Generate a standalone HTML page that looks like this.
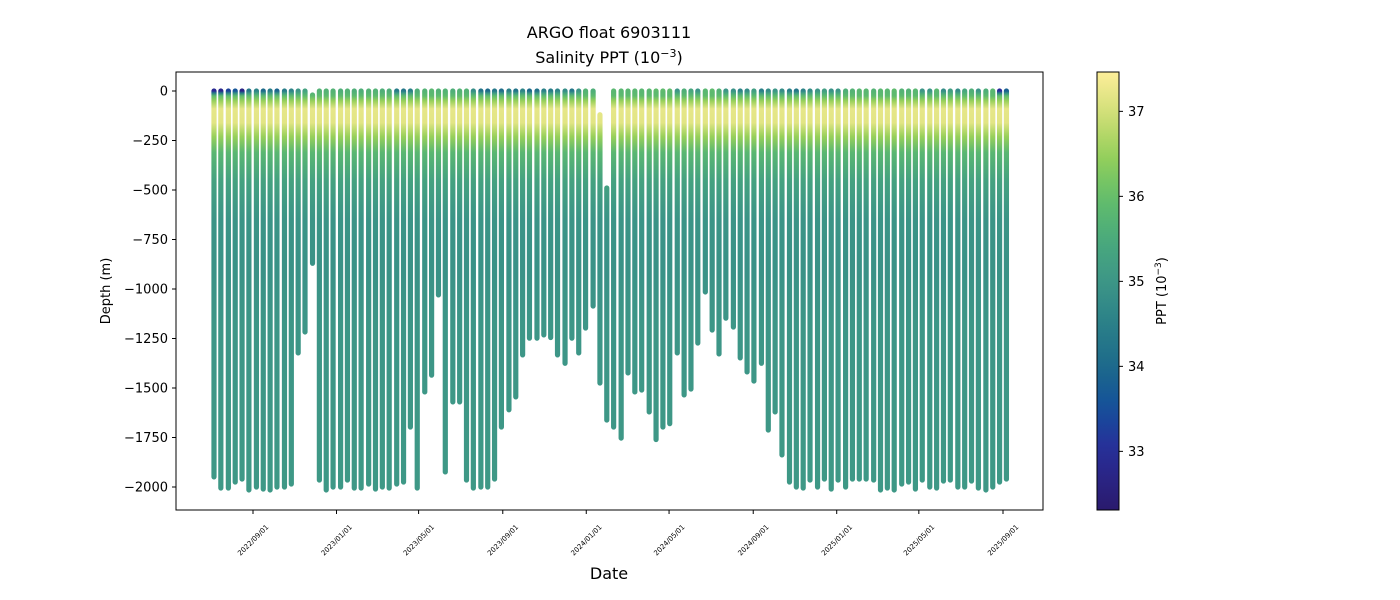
<!DOCTYPE html>
<html><head><meta charset="utf-8"><style>
body{margin:0;background:#fff;}
svg{display:block;font-family:"DejaVu Sans","Liberation Sans",sans-serif;}
</style></head><body>
<svg id="chart" width="1400" height="600" viewBox="0 0 1400 600">
<defs id="defs"><linearGradient id="cbar" x1="0" y1="1" x2="0" y2="0"></linearGradient></defs>
<text x="609" y="38" text-anchor="middle" font-size="16">ARGO float 6903111</text>
<text x="609" y="63" text-anchor="middle" font-size="16">Salinity PPT (10<tspan dy="-6" font-size="11">−3</tspan><tspan dy="6">)</tspan></text>
<g id="profiles"></g>
<rect x="176" y="72" width="867" height="438" fill="none" stroke="#000" stroke-width="1"/>
<g id="yaxis"></g>
<g id="xaxis"></g>
<text x="0" y="0" transform="translate(110,291) rotate(-90)" text-anchor="middle" font-size="13">Depth (m)</text>
<text x="609" y="579" text-anchor="middle" font-size="16">Date</text>
<rect x="1097" y="72" width="22" height="438" fill="url(#cbar)" stroke="#000" stroke-width="1"/>
<g id="cbaxis"></g>
<text x="0" y="0" transform="translate(1166,291) rotate(-90)" text-anchor="middle" font-size="13">PPT (10<tspan dy="-5" font-size="9">−3</tspan><tspan dy="5">)</tspan></text>
</svg>
<script>
const NS="http://www.w3.org/2000/svg";
// day offsets from 2022-09-01 for each profile
const profileDays=[-57,-47,-36,-26,-16,-6,5,15,25,35,46,56,66,76,87,97,107,117,128,138,148,158,169,179,189,199,210,220,230,240,251,261,271,281,292,302,312,322,333,343,353,363,374,384,394,404,415,425,435,445,456,466,476,486,497,507,517,527,538,548,558,568,579,589,599,609,620,630,640,650,661,671,681,691,702,712,722,732,743,753,763,773,784,794,804,814,825,835,845,855,866,876,886,896,907,917,927,937,948,958,968,978,989,999,1009,1019,1030,1040,1050,1060,1071,1081,1091,1101];
const maxDepth=[1949,2005,2005,1975,1960,2015,2000,2010,2015,2000,2000,1985,1323,1217,870,1965,2015,2000,2000,1965,2005,2005,1985,2010,2000,2005,1985,1975,1697,2005,1520,1435,1030,1924,1570,1570,1965,2005,2000,2000,1960,1697,1610,1545,1333,1248,1248,1232,1245,1333,1375,1248,1323,1197,1086,1475,1662,1697,1753,1424,1520,1510,1621,1760,1697,1680,1323,1535,1505,1273,1015,1207,1328,1147,1192,1348,1419,1465,1375,1712,1621,1838,1975,2000,2005,1965,2000,1960,2010,1965,2000,1960,1960,1960,1965,2015,2005,2015,1985,1975,2010,1965,2000,2005,1970,1965,2000,2000,1970,2005,2015,2000,1975,1960];
const minDepth=[0,0,0,0,0,0,0,0,0,0,0,0,0,0,20,0,0,0,0,0,0,0,0,0,0,0,0,0,0,0,0,0,0,0,0,0,0,0,0,0,0,0,0,0,0,0,0,0,0,0,0,0,0,0,0,120,490,0,0,0,0,0,0,0,0,0,0,0,0,0,0,0,0,0,0,0,0,0,0,0,0,0,0,0,0,0,0,0,0,0,0,0,0,0,0,0,0,0,0,0,0,0,0,0,0,0,0,0,0,0,0,0,0,0];
const surfaceSal=[32.9,32.8,33.3,33.6,32.7,34.3,34.6,34.0,34.4,33.9,34.4,34.6,35.0,35.3,35.6,35.7,35.7,35.7,35.6,35.7,35.6,35.6,35.7,35.7,35.6,35.6,34.4,34.3,34.5,35.6,35.7,35.8,35.7,35.7,35.6,35.7,35.7,34.8,34.2,34.0,34.3,34.1,34.5,34.2,34.6,34.0,34.2,34.5,34.4,34.6,34.8,34.3,35.0,35.7,35.6,35.6,35.7,35.8,35.8,35.8,35.8,35.8,35.8,35.9,35.9,35.9,35.0,35.6,35.4,35.0,35.8,35.9,35.7,35.0,34.9,34.6,34.8,35.2,34.5,34.8,35.0,34.8,34.5,34.3,34.6,34.8,35.0,35.2,34.9,35.0,35.6,35.7,35.8,35.8,35.7,35.8,35.8,35.9,35.7,35.7,35.8,35.0,35.0,35.8,34.8,35.2,34.8,35.4,35.6,35.0,35.6,35.8,33.0,33.8];
const profileSal=[35.9,36.5,37.2,37.15,36.5,35.8,35.3,34.95,34.92,35.0,35.05];
const profileSalDepth=[25,50,90,160,230,310,450,650,900,1200,2000];
const yTicks=[0,-250,-500,-750,-1000,-1250,-1500,-1750,-2000];
const xTickDays=[0,122,242,365,487,608,731,853,973,1096];
const xTickLabels=["2022/09/01","2023/01/01","2023/05/01","2023/09/01","2024/01/01","2024/05/01","2024/09/01","2025/01/01","2025/05/01","2025/09/01"];
const cbTicks=[33,34,35,36,37];

const cmapStops=[[32.3,[42,26,108]],[33,[41,44,152]],[33.5,[20,80,156]],[34,[29,106,138]],[34.5,[42,128,136]],[35,[61,150,135]],[35.5,[74,170,124]],[36,[100,191,106]],[36.5,[152,208,90]],[37,[212,224,122]],[37.45,[253,238,153]]];
function cmap(v){
  if(v<=cmapStops[0][0])return rgb(cmapStops[0][1]);
  for(let i=1;i<cmapStops.length;i++){const a=cmapStops[i-1],b=cmapStops[i];
    if(v<=b[0]){const t=(v-a[0])/(b[0]-a[0]);return rgb(a[1].map((c,j)=>c+(b[1][j]-c)*t));}}
  return rgb(cmapStops[cmapStops.length-1][1]);
}
function rgb(c){return "rgb("+c.map(Math.round).join(",")+")";}
const xs=d=>253+d*(1003-253)/1096;
const ys=dep=>91+dep*(396/2000);
const cs=v=>510-(v-32.31)*85;

const defs=document.getElementById("defs");
const cb=document.getElementById("cbar");
for(let i=0;i<=20;i++){const v=32.31+(37.46-32.31)*i/20;const s=document.createElementNS(NS,"stop");s.setAttribute("offset",i/20);s.setAttribute("stop-color",cmap(v));cb.appendChild(s);}

const g=document.getElementById("profiles");
profileDays.forEach((d,i)=>{
  const gr=document.createElementNS(NS,"linearGradient");
  gr.setAttribute("id","pg"+i);gr.setAttribute("gradientUnits","userSpaceOnUse");
  gr.setAttribute("x1",0);gr.setAttribute("x2",0);gr.setAttribute("y1",ys(0));gr.setAttribute("y2",ys(2000));
  const st=[[0,surfaceSal[i]],[10,(surfaceSal[i]+35.8)/2]].concat(profileSalDepth.map((dp,j)=>[dp,profileSal[j]]));
  st.forEach(p=>{const s=document.createElementNS(NS,"stop");s.setAttribute("offset",p[0]/2000);s.setAttribute("stop-color",cmap(p[1]));gr.appendChild(s);});
  defs.appendChild(gr);
  const l=document.createElementNS(NS,"line");
  const x=xs(d);
  l.setAttribute("x1",x);l.setAttribute("x2",x+0.001);
  l.setAttribute("y1",ys(minDepth[i]));l.setAttribute("y2",ys(maxDepth[i]));
  l.setAttribute("stroke","url(#pg"+i+")");l.setAttribute("stroke-width","5.2");l.setAttribute("stroke-linecap","round");
  
  
  g.appendChild(l);
});

const ya=document.getElementById("yaxis");
yTicks.forEach(v=>{
  const y=ys(-v);
  const t=document.createElementNS(NS,"line");t.setAttribute("x1",172);t.setAttribute("x2",176);t.setAttribute("y1",y);t.setAttribute("y2",y);t.setAttribute("stroke","#000");
  
  
  ya.appendChild(t);
  const tx=document.createElementNS(NS,"text");tx.setAttribute("x",168);tx.setAttribute("y",y+4.5);tx.setAttribute("text-anchor","end");tx.setAttribute("font-size","13");
  tx.textContent=v===0?"0":"−"+Math.abs(v);
  
  
  ya.appendChild(tx);
});
const xa=document.getElementById("xaxis");
xTickDays.forEach((d,i)=>{
  const x=xs(d);
  const t=document.createElementNS(NS,"line");t.setAttribute("x1",x);t.setAttribute("x2",x);t.setAttribute("y1",510);t.setAttribute("y2",514);t.setAttribute("stroke","#000");
  
  
  xa.appendChild(t);
  const tx=document.createElementNS(NS,"text");tx.setAttribute("transform","translate("+x+",540) rotate(-45)");tx.setAttribute("text-anchor","middle");tx.setAttribute("font-size","7");tx.setAttribute("dy","2.5");
  tx.textContent=xTickLabels[i];
  
  
  xa.appendChild(tx);
});
const ca=document.getElementById("cbaxis");
cbTicks.forEach(v=>{
  const y=cs(v);
  const t=document.createElementNS(NS,"line");t.setAttribute("x1",1119);t.setAttribute("x2",1123);t.setAttribute("y1",y);t.setAttribute("y2",y);t.setAttribute("stroke","#000");
  
  
  ca.appendChild(t);
  const tx=document.createElementNS(NS,"text");tx.setAttribute("x",1128);tx.setAttribute("y",y+4.5);tx.setAttribute("font-size","13");
  tx.textContent=v;
  
  
  ca.appendChild(tx);
});
</script>
</body></html>
